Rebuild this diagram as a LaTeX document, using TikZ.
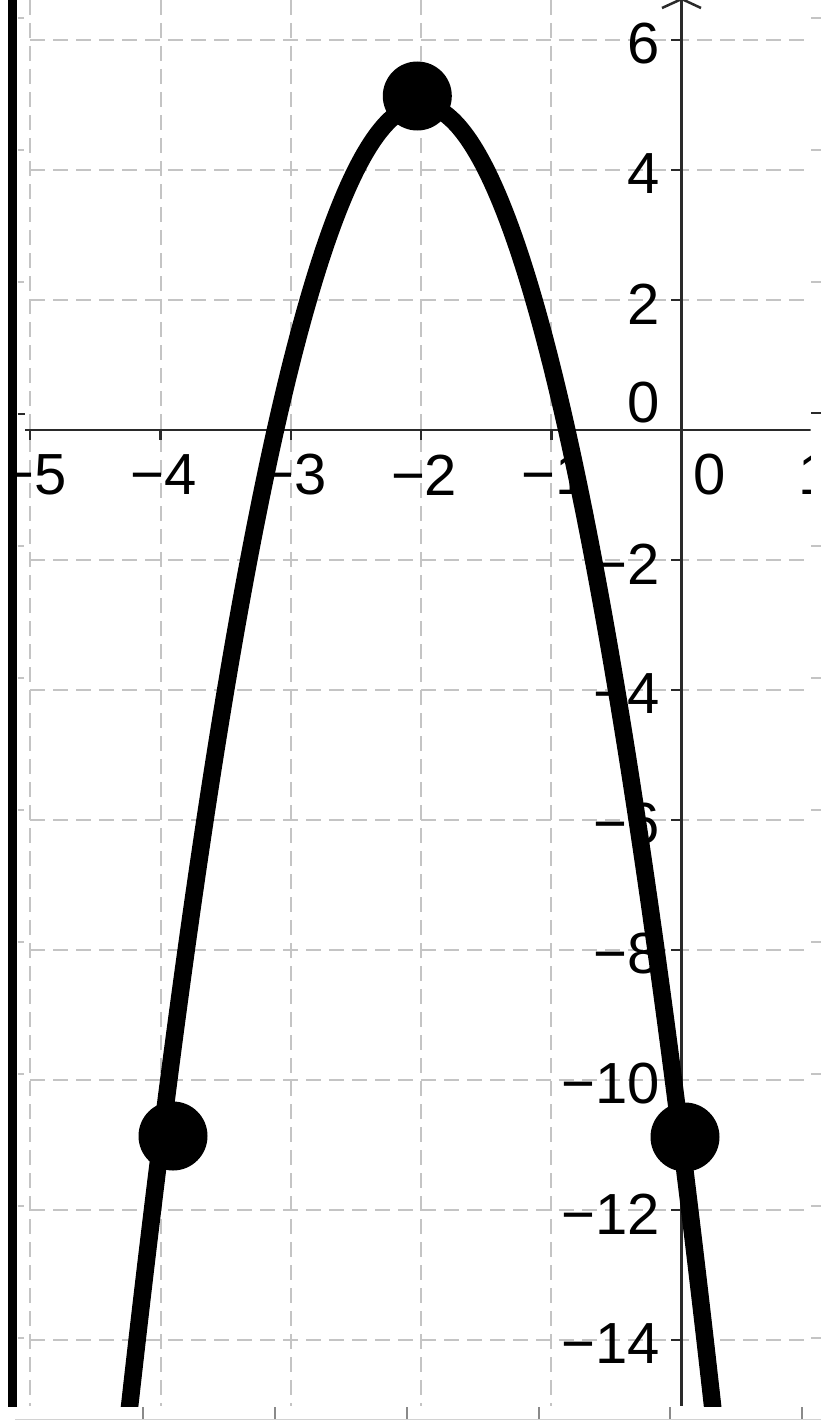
\documentclass[tikz,border=0pt]{standalone}
\usepackage{fontspec}
\setmainfont{Liberation Sans}
\definecolor{gridgray}{HTML}{C4C4C4}
\definecolor{axisgray}{HTML}{2A2A2A}
\definecolor{edgegray}{HTML}{D2D2D2}
\definecolor{tickgray}{HTML}{8A8A8A}
\tikzset{
  gridline/.style={draw=gridgray, line width=2pt, dash pattern=on 15pt off 8pt},
  axisline/.style={draw=axisgray, line width=2.5pt},
  tickline/.style={draw=axisgray, line width=2.5pt},
  curveline/.style={draw=black, line width=17.5pt},
  ptdot/.style={circle, fill=black, minimum size=69pt, inner sep=0pt},
  lab/.style={font=\fontsize{58}{60}\selectfont, inner sep=0pt, text=black},
  sidetick/.style={draw=gridgray, line width=2pt},
  sidetickdark/.style={draw=axisgray, line width=2.5pt},
  bottomtick/.style={draw=tickgray, line width=1.5pt},
}
\begin{document}
\begin{tikzpicture}[x=1pt, y=-1pt]
\useasboundingbox (0,0) rectangle (821,1421);
\fill[white] (0,0) rectangle (821,1421);
% main graph
\begin{scope}
  \clip (17,0) rectangle (810.5,1406);
  % grid
  \foreach \i in {-5,-4,-3,-2,-1,1}
    \draw[gridline] (681.7+130.3*\i, 0) -- (681.7+130.3*\i, 1406);
  \foreach \v in {6,4,2,-2,-4,-6,-8,-10,-12,-14}
    \draw[gridline] (30, 430-65*\v) -- (810.5, 430-65*\v);
  % axes
  \coordinate (xl) at (25,430);
  \coordinate (xr) at (812,430);
  \coordinate (yt) at (681.7,-1);
  \coordinate (yb) at (681.7,1406);
  \draw[axisline] (xl) -- (xr);
  \draw[axisline] (yt) -- (yb);
  \draw[axisline] (662,8) -- (yt) -- (701,8);
  \foreach \i in {-5,-4,-3,-2,-1,1}
    \draw[tickline] (681.7+130.3*\i, 430) -- (681.7+130.3*\i, 440);
  \foreach \v in {6,4,2,-2,-4,-6,-8,-10,-12,-14}
    \draw[tickline] (671, 430-65*\v) -- (681.7, 430-65*\v);
  % labels
  \foreach \v in {6,4,2} \node[lab, anchor=east] (ly\v) at (660, 434-65*\v) {\v};
  \foreach \v in {2,4,6,8,10,12,14} \node[lab, anchor=east] (lyn\v) at (660, 434+65*\v) {−\v};
  \node[lab, anchor=east] (ly0) at (660, 403) {0};
  \foreach \i in {1,2,3,4,5} \node[lab] (lxn\i) at (684.7-130.3*\i, 475) {−\i};
  \node[lab] (lx0) at (710, 475) {0};
  \node[lab] (lx1) at (815, 475) {1};
  % curve
  \begin{scope}[shift={(681.7,430)}, x=130.3pt, y=65pt]
    \draw[curveline] plot[domain=-4.26:0.26, samples=120, smooth] (\x, {-4*\x*\x-16*\x-11});
  \end{scope}
  % points
  \node[ptdot] (pv) at (417.3,96) {};
  \node[ptdot] (pl) at (173,1136) {};
  \node[ptdot] (pr) at (685,1137) {};
\end{scope}
% left black bar
\fill[black] (8,0) rectangle (17,1407);
% side remnant ticks
\foreach \k in {0,1,2,4,5,6,7,8,9,10} {
  \draw[sidetick] (17.5, 18+132*\k) -- (24, 18+132*\k);
  \draw[sidetick] (811, 18+132*\k) -- (821, 18+132*\k);
}
\draw[sidetickdark] (17.5, 414) -- (25, 414);
\draw[sidetickdark] (811, 413) -- (821, 413);
% bottom strip
\draw[draw=edgegray, line width=1.5pt] (15,1419.5) -- (821,1419.5);
\foreach \x in {143,275,407,539,670,802}
  \draw[bottomtick] (\x,1407) -- (\x,1419);
\end{tikzpicture}
\end{document}
